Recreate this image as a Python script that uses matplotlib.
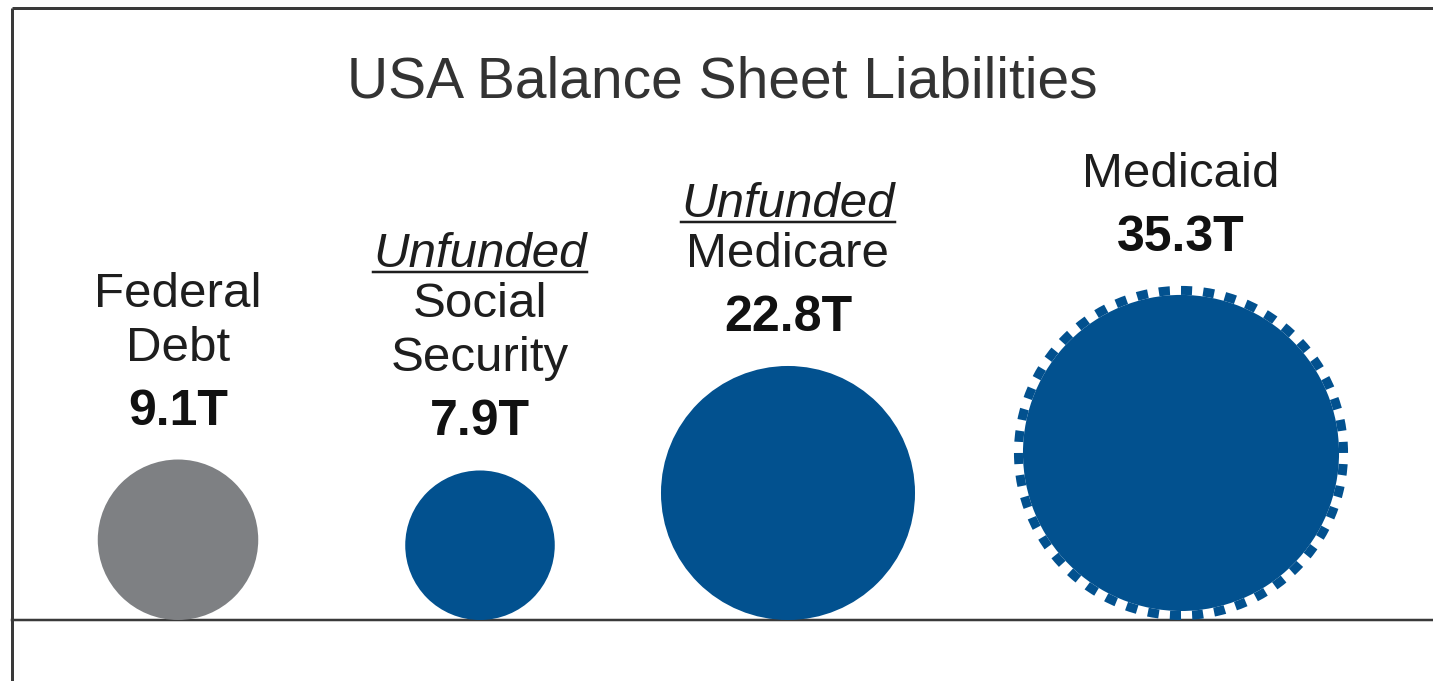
import numpy as np
import matplotlib
matplotlib.use("Agg")
import matplotlib.pyplot as plt
import matplotlib.patches as patches

# data
categories = [["Federal", "Debt"], ["Social", "Security"], ["Medicare"], ["Medicaid"]]
unfunded = [False, True, True, False]
values = [9.1, 7.9, 22.8, 35.3]
value_labels = ["9.1T", "7.9T", "22.8T", "35.3T"]
title = "USA Balance Sheet Liabilities"

# layout (pixel coordinates, y downwards)
W, H = 1433, 681
slots = [178, 480, 788, 1181]
baseline = 620
scale = 26.6          # radius = scale * sqrt(value)
colors = ["#7e8083", "#02518f", "#02518f", "#02518f"]
dashed_edge = [False, False, False, True]
line_gap = 54
value_gap = 64

fig = plt.figure(figsize=(W / 100, H / 100), dpi=100)
ax = fig.add_axes([0, 0, 1, 1])
ax.set_xlim(0, W)
ax.set_ylim(H, 0)
ax.axis("off")

px = 72 / 100  # pixels -> points
font = "Liberation Sans"

# frame
ax.plot([12, W], [8, 8], color="#3a3a3a", lw=3 * px, solid_capstyle="butt")
ax.plot([12, 12], [8, H], color="#3a3a3a", lw=3 * px, solid_capstyle="butt")
ax.plot([12, W], [baseline, baseline], color="#3a3a3a", lw=2.5 * px, zorder=1)

ax.text(722, 97, title, ha="center", va="baseline", fontsize=41,
        family=font, color="#333333")

underlines = []
for x, lines, unf, v, lab, c, dash in zip(slots, categories, unfunded, values,
                                          value_labels, colors, dashed_edge):
    r = scale * np.sqrt(v)
    pad = 9 if dash else 0
    cy = baseline - r - pad
    ax.add_patch(patches.Circle((x, cy), r, fc=c, ec="none", zorder=2))
    if dash:
        rr = r + pad / 2
        n = int(round(2 * np.pi * rr / 22))
        period = 2 * np.pi * rr / n
        lw = pad * px
        on = period / 2 / pad
        ax.add_patch(patches.Circle((x, cy), rr, fill=False, ec=c, lw=lw,
                                    linestyle=(0, (on, on)), capstyle="butt",
                                    zorder=2))
    top = cy - r - pad
    yv = top - 35
    ax.text(x, yv, lab, ha="center", va="baseline", fontsize=36,
            fontweight="bold", family=font, color="#111111")
    y = yv - value_gap
    for ln in reversed(lines):
        ax.text(x, y, ln, ha="center", va="baseline", fontsize=35.5,
                family=font, color="#1e1e1e")
        y -= line_gap
    if unf:
        t = ax.text(x, y + 4, "Unfunded", ha="center", va="baseline",
                    fontsize=35.5, style="italic", family=font, color="#1e1e1e")
        underlines.append((t, y + 9))

fig.canvas.draw()
inv = ax.transData.inverted()
for t, yu in underlines:
    bb = t.get_window_extent()
    x0, _ = inv.transform((bb.x0, bb.y0))
    x1, _ = inv.transform((bb.x1, bb.y0))
    ax.plot([x0, x1], [yu, yu], color="#1e1e1e", lw=2.5 * px)

fig.savefig("out.png", dpi=100)
